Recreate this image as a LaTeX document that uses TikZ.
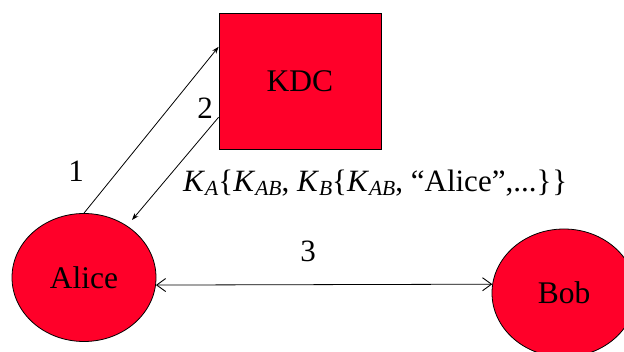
\documentclass[tikz,border=0pt]{standalone}
\usepackage{fontspec}
\setmainfont{Liberation Serif}
\usetikzlibrary{shapes.geometric,arrows.meta,calc}
\definecolor{boxred}{RGB}{255,0,41}
\newcommand\subx[1]{\raisebox{-4pt}{\fontsize{21.5}{24}\selectfont\textit{#1}}}
\tikzset{
  party/.style={ellipse,draw=black,line width=0.8pt,fill=boxred,inner sep=0pt,minimum width=144pt,minimum height=128pt,font=\fontsize{31.5}{36}\selectfont},
  kdcbox/.style={rectangle,draw=black,line width=0.8pt,fill=boxred,inner sep=0pt,minimum width=162pt,minimum height=136pt,font=\fontsize{31.5}{36}\selectfont},
  lbl/.style={inner sep=0pt,font=\fontsize{31}{36}\selectfont},
  msg/.style={line width=0.8pt},
  barb/.tip={Straight Barb[length=9pt,width=13pt,line width=0.9pt]},
  smallhead/.tip={Stealth[length=7pt,width=5pt]},
}
\begin{document}
\begin{tikzpicture}[x=1pt,y=-1pt]
\useasboundingbox (0,0) rectangle (624,352);
\node[kdcbox] (KDC) at (300,81) {KDC};
\node[party] (Alice) at (84,277.5) {Alice};
\node[party] (Bob) at (564,293) {Bob};
\coordinate (k1) at ($(KDC.north west)!0.25!(KDC.south west)$);
\coordinate (k2) at ($(KDC.north west)!0.765!(KDC.south west)$);
\coordinate (a2) at (132,220);
\draw[msg,-{smallhead}] (Alice.north) -- (k1);
\draw[msg,-{smallhead}] (k2) -- (a2);
\draw[msg,{barb}-{barb}] (Alice.-6) -- (Bob.173);
\node[lbl] (n1) at (76,171) {1};
\node[lbl] (n2) at (205,108) {2};
\node[lbl] (n3) at (308,251) {3};
\node[lbl,anchor=base west] (m) at (183,192) {\textit{K}\subx{A}\{\textit{K}\subx{AB}, \textit{K}\subx{B}\{\textit{K}\subx{AB}, “Alice”,...\}\kern1pt\}};
\end{tikzpicture}
\end{document}
